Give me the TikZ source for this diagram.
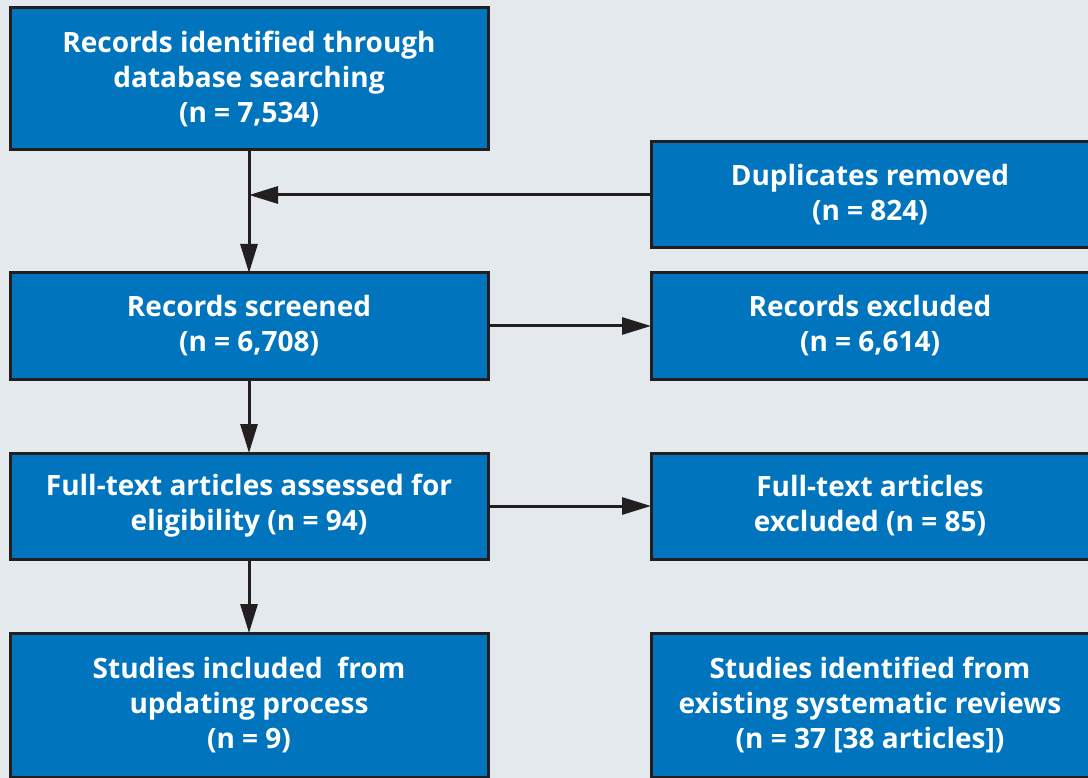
\documentclass[tikz,border=0pt]{standalone}
\usepackage{fontspec}
\setmainfont{Open Sans}
\usetikzlibrary{arrows.meta}
\definecolor{bgc}{HTML}{E4E9EE}
\definecolor{boxc}{HTML}{0075BE}
\definecolor{edgec}{HTML}{231F20}
\tikzset{
  flowbox/.style={draw=edgec, line width=3pt, fill=boxc, text=white,
    font=\bfseries\fontsize{28}{35}\selectfont, align=center,
    inner sep=0pt, outer sep=0pt, rectangle},
  conn/.style={draw=edgec, line width=3pt,
    -{Triangle[length=29pt,width=17pt]}}
}
\begin{document}
\begin{tikzpicture}[x=1pt,y=-1pt]
\useasboundingbox[fill=bgc] (0,0) rectangle (1088,778);
\begin{scope}
\clip (0,0) rectangle (1088,778);
\node[flowbox, minimum width=478pt, minimum height=142pt] (ident) at (249,79)
  {Records identified through\\database searching\\(n = 7,534)};
\node[flowbox, minimum width=478pt, minimum height=106pt] (screen) at (249,326)
  {Records screened\\(n = 6,708)};
\node[flowbox, minimum width=478pt, minimum height=106pt] (full) at (249,506)
  {Full-text articles assessed for\\eligibility (n = 94)};
\node[flowbox, minimum width=478pt, minimum height=144pt] (incl) at (249,705)
  {Studies included\ \ from\\updating process\\(n = 9)};
\node[flowbox, minimum width=438pt, minimum height=106pt] (dup) at (870,195)
  {Duplicates removed\\(n = 824)};
\node[flowbox, minimum width=438pt, minimum height=106pt] (rexcl) at (870,326)
  {Records excluded\\(n = 6,614)};
\node[flowbox, minimum width=438pt, minimum height=106pt] (fexcl) at (870,506)
  {Full-text articles\\excluded (n = 85)};
\node[flowbox, minimum width=438pt, minimum height=144pt] (sysrev) at (870,705)
  {Studies identified from\\existing systematic reviews\\(n = 37 [38 articles])};
\coordinate (join) at (ident.south |- dup.west);
\draw[conn] (ident.south) -- (screen.north);
\draw[conn] (dup.west) -- (join);
\draw[conn] (screen.south) -- (full.north);
\draw[conn] (full.south) -- (incl.north);
\draw[conn] (screen.east) -- (rexcl.west);
\draw[conn] (full.east) -- (fexcl.west);
\end{scope}
\end{tikzpicture}
\end{document}
